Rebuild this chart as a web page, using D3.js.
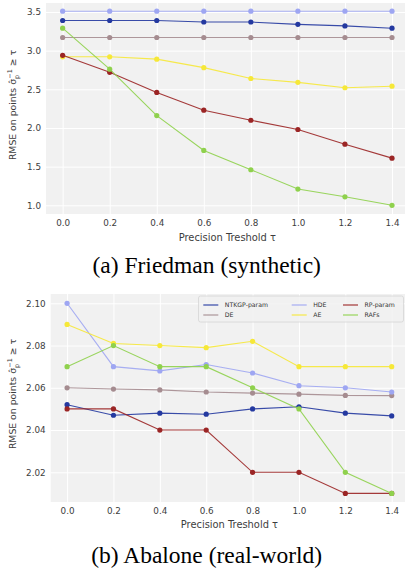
<!DOCTYPE html>
<html><head><meta charset="utf-8">
<script src="https://cdn.jsdelivr.net/npm/d3@7"></script>
<style>body{margin:0;background:#fff;} svg{display:block;font-family:"DejaVu Sans",sans-serif;}</style>
</head><body>
<svg id="c" width="405" height="572"></svg>
<script>
const taus = [0.0, 0.2, 0.4, 0.6, 0.8, 1.0, 1.2, 1.4];
const seriesNames = ["NTKGP-param", "DE", "HDE", "AE", "RP-param", "RAFs"];
const seriesColors = ["#2439a0", "#a58c90", "#9ea6f2", "#f6e838", "#9b2525", "#8fd14d"];

// (a) Friedman
const friedmanNTKGP = [3.39, 3.39, 3.39, 3.37, 3.37, 3.34, 3.32, 3.29];
const friedmanDE    = [3.17, 3.17, 3.17, 3.17, 3.17, 3.17, 3.17, 3.17];
const friedmanHDE   = [3.51, 3.51, 3.51, 3.51, 3.51, 3.51, 3.51, 3.51];
const friedmanAE    = [2.92, 2.92, 2.89, 2.78, 2.64, 2.59, 2.52, 2.54];
const friedmanRP    = [2.94, 2.72, 2.46, 2.23, 2.10, 1.98, 1.79, 1.61];
const friedmanRAFs  = [3.29, 2.76, 2.16, 1.71, 1.46, 1.21, 1.11, 1.00];
const friedmanTicks = [1.0, 1.5, 2.0, 2.5, 3.0, 3.5];

// (b) Abalone
const abaloneNTKGP = [2.052, 2.047, 2.048, 2.0475, 2.050, 2.051, 2.048, 2.0467];
const abaloneDE    = [2.060, 2.0594, 2.059, 2.058, 2.0575, 2.057, 2.0564, 2.0563];
const abaloneHDE   = [2.100, 2.070, 2.068, 2.071, 2.067, 2.061, 2.060, 2.058];
const abaloneAE    = [2.090, 2.081, 2.080, 2.079, 2.082, 2.070, 2.070, 2.070];
const abaloneRP    = [2.050, 2.050, 2.040, 2.040, 2.020, 2.020, 2.010, 2.010];
const abaloneRAFs  = [2.070, 2.080, 2.070, 2.070, 2.060, 2.050, 2.020, 2.010];
const abaloneTicks = [2.02, 2.04, 2.06, 2.08, 2.10];

const xTicks = taus;
const captions = ["(a) Friedman (synthetic)", "(b) Abalone (real-world)"];
const xLabel = "Precision Treshold τ";

const svg = d3.select("#c");

function panel(cfg) {
  const g = svg.append("g");
  const x = d3.scaleLinear().domain(cfg.xDomain).range([cfg.left, cfg.right]);
  const y = d3.scaleLinear().domain(cfg.yDomain).range([cfg.bottom, cfg.top]);
  g.append("rect").attr("x", cfg.left).attr("y", cfg.top)
    .attr("width", cfg.right - cfg.left).attr("height", cfg.bottom - cfg.top)
    .attr("fill", "#f1f1f1");
  const xa = d3.axisBottom(x).tickValues(xTicks).tickFormat(d3.format(".1f"))
    .tickSize(-(cfg.bottom - cfg.top)).tickPadding(6);
  const ya = d3.axisLeft(y).tickValues(cfg.yTicks).tickFormat(cfg.yFmt)
    .tickSize(-(cfg.right - cfg.left)).tickPadding(5);
  const gx = g.append("g").attr("transform", `translate(0,${cfg.bottom})`).call(xa);
  const gy = g.append("g").attr("transform", `translate(${cfg.left},0)`).call(ya);
  [gx, gy].forEach(a => {
    a.select(".domain").remove();
    a.selectAll(".tick line").attr("stroke", "#ffffff").attr("stroke-width", 1);
    a.selectAll(".tick text").attr("fill", "#3d3d3d").style("font-size", "8.8px")
      .style("font-family", "DejaVu Sans");
  });
  cfg.series.forEach((vals, i) => {
    const pts = taus.map((t, j) => [t, vals[j]]);
    const line = d3.line().x(d => x(d[0])).y(d => y(d[1]));
    g.append("path").attr("d", line(pts)).attr("fill", "none")
      .attr("stroke", seriesColors[i]).attr("stroke-width", 1.1).attr("stroke-opacity", 0.9);
    g.selectAll(null).data(pts).enter().append("circle")
      .attr("cx", d => x(d[0])).attr("cy", d => y(d[1])).attr("r", 2.6)
      .attr("fill", seriesColors[i]);
  });
  g.append("text").attr("x", (x(0) + x(1.4)) / 2).attr("y", cfg.xLabelY)
    .attr("text-anchor", "middle").attr("fill", "#3d3d3d").style("font-size", "9.9px")
    .text(xLabel);
  const yl = g.append("text").attr("transform", `translate(${cfg.yLabelX},${cfg.yLabelY}) rotate(-90)`)
    .attr("text-anchor", "middle").attr("fill", "#3d3d3d").style("font-size", "9.3px");
  yl.append("tspan").text("RMSE on points σ\u0302");
  yl.append("tspan").attr("dy", 3).style("font-size", "6.5px").text("p");
  yl.append("tspan").attr("dx", -4).attr("dy", -7).style("font-size", "6.5px").text("−1");
  yl.append("tspan").attr("dy", 4).text(" ≥ τ");
  svg.append("text").attr("x", 206.7).attr("y", cfg.captionY).attr("text-anchor", "middle")
    .style("font-family", "Liberation Serif, Times New Roman, serif").style("font-size", "23.5px")
    .attr("fill", "#000").text(cfg.caption);
  return g;
}

panel({
  left: 46, right: 405, top: 3, bottom: 214,
  xDomain: [-0.0708, 1.4553], yDomain: [0.8875, 3.616],
  yTicks: friedmanTicks, yFmt: d3.format(".1f"),
  series: [friedmanNTKGP, friedmanDE, friedmanHDE, friedmanAE, friedmanRP, friedmanRAFs],
  xLabelY: 241, yLabelX: 16, yLabelY: 105, captionY: 273, caption: captions[0]
});

const g2 = panel({
  left: 50.7, right: 405, top: 294, bottom: 502,
  xDomain: [-0.0707, 1.4573], yDomain: [2.00594, 2.1044],
  yTicks: abaloneTicks, yFmt: d3.format(".2f"),
  series: [abaloneNTKGP, abaloneDE, abaloneHDE, abaloneAE, abaloneRP, abaloneRAFs],
  xLabelY: 528, yLabelX: 16, yLabelY: 394, captionY: 563, caption: captions[1]
});

const lg = g2.append("g");
lg.append("rect").attr("x", 198.5).attr("y", 296).attr("width", 205).attr("height", 26)
  .attr("rx", 2).attr("fill", "#f1f1f1").attr("fill-opacity", 0.85)
  .attr("stroke", "#d6d6d6").attr("stroke-width", 0.8);
const colX = [203.3, 291.7, 343];
const rowY = [305, 315];
seriesNames.forEach((name, i) => {
  const c = Math.floor(i / 2), r = i % 2;
  lg.append("line").attr("x1", colX[c]).attr("x2", colX[c] + 15)
    .attr("y1", rowY[r]).attr("y2", rowY[r]).attr("stroke", seriesColors[i]).attr("stroke-width", 1.1);
  lg.append("text").attr("x", colX[c] + 21.5).attr("y", rowY[r]).attr("dy", "0.35em")
    .attr("fill", "#333").style("font-size", "6.2px").text(name);
});
</script>
</body></html>
